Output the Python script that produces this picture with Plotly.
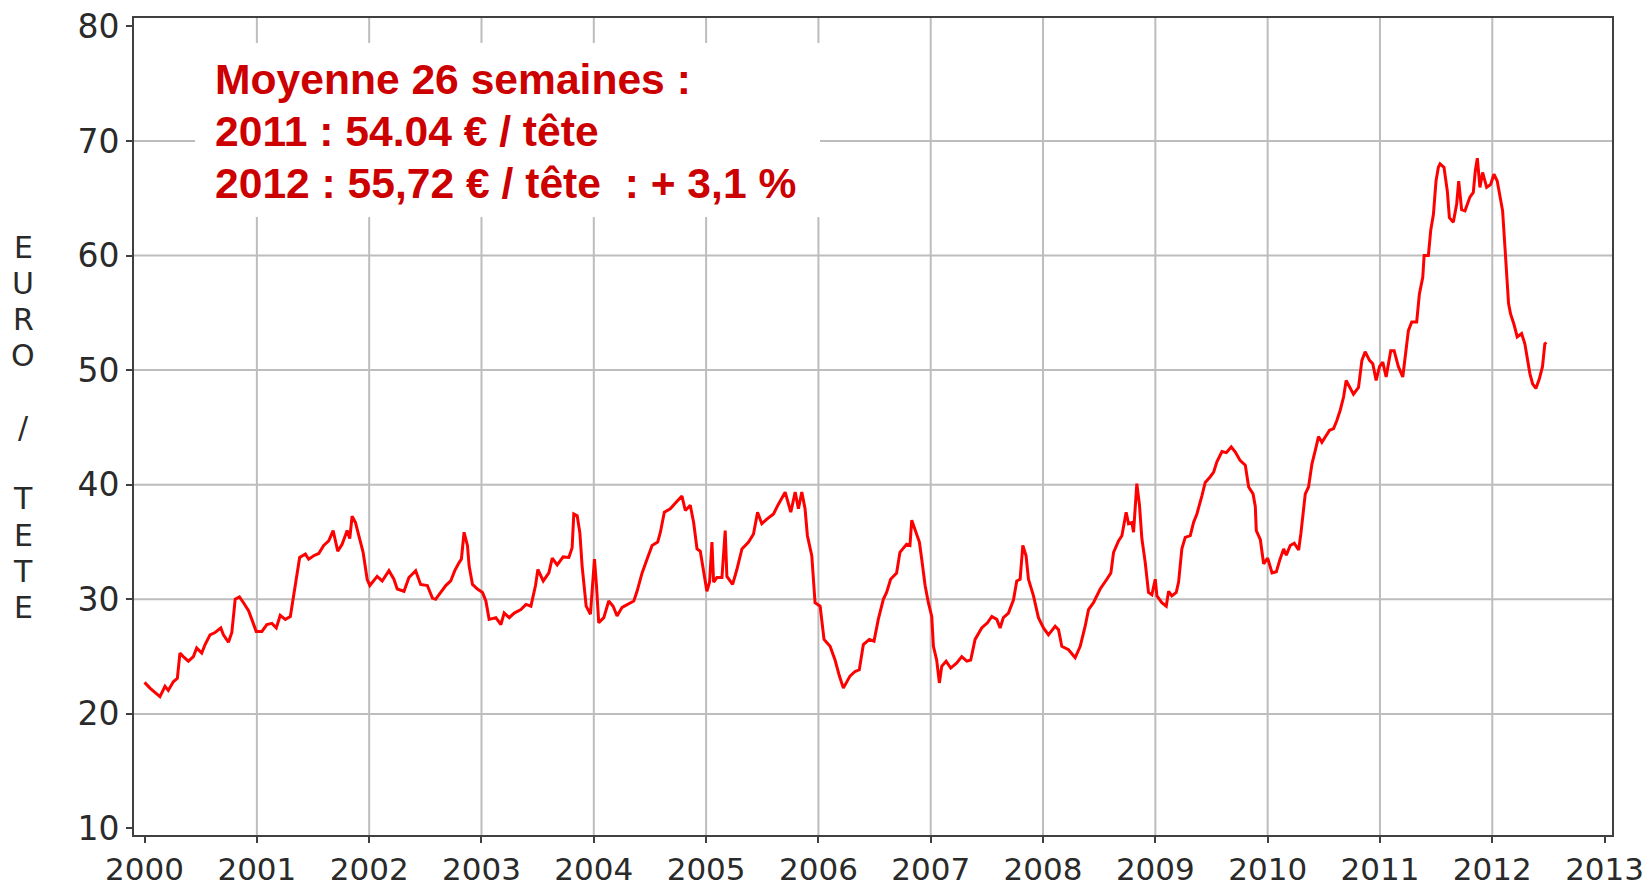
import plotly.graph_objects as go

# ---------------- data ----------------
annees = [
    2000.000, 2000.048, 2000.137, 2000.182, 2000.211, 2000.256, 2000.292, 2000.315, 2000.345, 2000.390,
    2000.435, 2000.464, 2000.509, 2000.539, 2000.583, 2000.628, 2000.679, 2000.702, 2000.747, 2000.777,
    2000.807, 2000.845, 2000.881, 2000.926, 2000.955, 2000.994, 2001.045, 2001.089, 2001.134, 2001.173,
    2001.208, 2001.253, 2001.298, 2001.321, 2001.357, 2001.381, 2001.432, 2001.461, 2001.506, 2001.551,
    2001.595, 2001.640, 2001.679, 2001.720, 2001.759, 2001.804, 2001.827, 2001.848, 2001.878, 2001.899,
    2001.946, 2001.982, 2002.006, 2002.071, 2002.116, 2002.176, 2002.220, 2002.250, 2002.310, 2002.354,
    2002.414, 2002.458, 2002.518, 2002.563, 2002.592, 2002.622, 2002.682, 2002.726, 2002.762, 2002.801,
    2002.821, 2002.845, 2002.875, 2002.890, 2002.920, 2002.964, 2003.009, 2003.039, 2003.068, 2003.128,
    2003.173, 2003.202, 2003.247, 2003.292, 2003.351, 2003.396, 2003.440,
    2003.481, 2003.502, 2003.550, 2003.600, 2003.630, 2003.674, 2003.727, 2003.778, 2003.807, 2003.822,
    2003.852, 2003.876, 2003.896, 2003.932, 2003.970, 2004.006, 2004.024, 2004.044, 2004.089, 2004.133,
    2004.172, 2004.207, 2004.252, 2004.296, 2004.356, 2004.385, 2004.430, 2004.474, 2004.519, 2004.569,
    2004.593, 2004.628, 2004.681, 2004.735, 2004.785, 2004.815, 2004.859, 2004.889, 2004.919, 2004.948,
    2004.978, 2005.007, 2005.031, 2005.052, 2005.067, 2005.096, 2005.141, 2005.170, 2005.185, 2005.236,
    2005.274, 2005.319, 2005.378, 2005.422, 2005.458, 2005.496, 2005.541, 2005.600, 2005.644, 2005.704,
    2005.754, 2005.793, 2005.822, 2005.852, 2005.881, 2005.902, 2005.941, 2005.970, 2006.015, 2006.050,
    2006.104, 2006.148, 2006.187, 2006.222, 2006.281, 2006.326, 2006.364, 2006.400, 2006.453, 2006.495,
    2006.533, 2006.578, 2006.607, 2006.643, 2006.696, 2006.726, 2006.785, 2006.815,
    2006.831, 2006.860, 2006.899, 2006.920, 2006.950, 2006.979, 2007.009, 2007.024, 2007.053, 2007.077,
    2007.098, 2007.137, 2007.178, 2007.232, 2007.276, 2007.321, 2007.356, 2007.395, 2007.454, 2007.505,
    2007.544, 2007.588, 2007.618, 2007.647, 2007.692, 2007.737, 2007.766, 2007.796, 2007.820, 2007.849,
    2007.870, 2007.915, 2007.959, 2008.004, 2008.048, 2008.108, 2008.138, 2008.167, 2008.227, 2008.286,
    2008.331, 2008.375, 2008.405, 2008.449, 2008.509, 2008.568, 2008.604, 2008.628, 2008.672, 2008.702,
    2008.740, 2008.761, 2008.791, 2008.806, 2008.835, 2008.859, 2008.880, 2008.910, 2008.939, 2008.969,
    2008.999, 2009.014, 2009.058, 2009.097, 2009.118, 2009.147, 2009.186, 2009.207, 2009.236, 2009.266,
    2009.311, 2009.340, 2009.370, 2009.415, 2009.444, 2009.489, 2009.519, 2009.548, 2009.593, 2009.632,
    2009.676, 2009.712, 2009.756, 2009.801,
    2009.831, 2009.870, 2009.890, 2009.899, 2009.935, 2009.964, 2010.000, 2010.039, 2010.077, 2010.107,
    2010.142, 2010.166, 2010.201, 2010.237, 2010.276, 2010.296, 2010.314, 2010.335, 2010.364, 2010.394,
    2010.424, 2010.453, 2010.483, 2010.513, 2010.551, 2010.587, 2010.616, 2010.646, 2010.676, 2010.699,
    2010.735, 2010.764, 2010.809, 2010.839, 2010.868, 2010.907, 2010.936, 2010.966, 2010.996, 2011.025,
    2011.055, 2011.096, 2011.126, 2011.164, 2011.203, 2011.233, 2011.253, 2011.283, 2011.327, 2011.351,
    2011.381, 2011.393, 2011.431, 2011.452, 2011.476, 2011.499, 2011.520, 2011.535, 2011.570, 2011.600,
    2011.618, 2011.653, 2011.683, 2011.701, 2011.727, 2011.757, 2011.801, 2011.831, 2011.849, 2011.867,
    2011.890, 2011.914, 2011.950, 2011.985, 2012.015, 2012.044, 2012.068, 2012.092, 2012.113, 2012.127,
    2012.145, 2012.163, 2012.193, 2012.222, 2012.261, 2012.290, 2012.311, 2012.335, 2012.359, 2012.388,
    2012.418, 2012.447, 2012.468, 2012.483,
]

prix = [
    22.75, 22.25, 21.5, 22.4, 22.05, 22.8, 23.1, 25.3, 25.0, 24.6,
    25.0, 25.75, 25.3, 26.05, 26.9, 27.1, 27.5, 26.9, 26.25, 27.1,
    30.0, 30.2, 29.7, 29.0, 28.25, 27.2, 27.2, 27.8, 27.9, 27.5,
    28.6, 28.25, 28.5, 30.0, 32.0, 33.65, 33.95, 33.5, 33.8, 34.0,
    34.7, 35.1, 36.0, 34.2, 34.8, 36.0, 35.3, 37.25, 36.7, 35.85,
    34.1, 31.75, 31.2, 32.0, 31.6, 32.5, 31.75, 30.9, 30.7, 31.9,
    32.5, 31.3, 31.2, 30.1, 30.0, 30.4, 31.2, 31.6, 32.5, 33.2,
    33.5, 35.85, 34.7, 32.9, 31.3, 30.9, 30.6, 29.85, 28.25, 28.4,
    27.8, 28.8, 28.4, 28.8, 29.1, 29.55, 29.4,
    31.2, 32.6, 31.6, 32.3, 33.6, 33.0, 33.7, 33.65, 34.5, 37.45,
    37.3, 35.8, 32.9, 29.4, 28.7, 33.5, 31.2, 27.95, 28.4, 29.85,
    29.4, 28.55, 29.3, 29.55, 29.85, 30.7, 32.3, 33.5, 34.7, 35.0,
    35.85, 37.6, 37.9, 38.5, 39.0, 37.75, 38.2, 36.7, 34.4, 34.2,
    32.3, 30.7, 31.5, 35.0, 31.5, 31.9, 31.9, 36.0, 32.0, 31.3,
    32.6, 34.4, 35.0, 35.7, 37.6, 36.6, 37.0, 37.45, 38.3, 39.35,
    37.6, 39.35, 37.9, 39.35, 37.9, 35.55, 33.8, 29.7, 29.4, 26.5,
    25.9, 24.7, 23.3, 22.25, 23.3, 23.7, 23.85, 26.05, 26.5, 26.35,
    28.25, 30.0, 30.6, 31.75, 32.3, 34.1, 34.8, 34.7,
    36.9, 36.1, 35.0, 33.5, 31.2, 29.7, 28.5, 25.9, 24.7, 22.7,
    24.15, 24.6, 24.0, 24.45, 25.0, 24.6, 24.7, 26.5, 27.5, 27.95,
    28.5, 28.25, 27.5, 28.4, 28.8, 29.95, 31.6, 31.75, 34.7, 33.8,
    31.75, 30.3, 28.4, 27.5, 26.9, 27.65, 27.35, 25.9, 25.6, 24.9,
    25.9, 27.65, 29.1, 29.7, 30.9, 31.75, 32.3, 34.1, 35.1, 35.55,
    37.6, 36.6, 36.7, 35.85, 40.1, 38.2, 35.3, 33.2, 30.6, 30.4,
    31.75, 30.3, 29.7, 29.4, 30.7, 30.3, 30.6, 31.5, 34.4, 35.4,
    35.55, 36.7, 37.45, 39.05, 40.2, 40.7, 41.1, 42.0, 42.9, 42.8,
    43.3, 42.85, 42.1, 41.7,
    39.8, 39.2, 38.1, 36.0, 35.2, 33.1, 33.6, 32.3, 32.4, 33.4,
    34.4, 33.85, 34.7, 34.9, 34.3, 35.75, 37.5, 39.2, 39.8, 41.8,
    43.0, 44.2, 43.7, 44.2, 44.75, 44.9, 45.6, 46.5, 47.65, 49.1,
    48.5, 47.9, 48.5, 50.85, 51.6, 50.85, 50.55, 49.1, 50.3, 50.7,
    49.4, 51.7, 51.7, 50.3, 49.4, 52.0, 53.45, 54.2, 54.2, 56.65,
    58.1, 60.0, 60.0, 62.2, 63.6, 66.5, 67.7, 68.0, 67.7, 65.6,
    63.3, 62.9, 64.5, 66.5, 64.0, 63.9, 65.1, 65.5, 67.4, 68.5,
    65.95, 67.25, 65.95, 66.2, 67.1, 66.5, 65.1, 63.9, 60.7, 58.4,
    55.8, 54.9, 54.0, 52.9, 53.2, 52.3, 51.1, 49.7, 48.8, 48.4,
    49.2, 50.3, 52.3, 52.4,
]

x_ticks = list(range(2000, 2014))
y_ticks = [10, 20, 30, 40, 50, 60, 70, 80]
titre_y = "EURO / TETE"
encart = [
    "Moyenne 26 semaines :",
    "2011 : 54.04 € / tête",
    "2012 : 55,72 € / tête  : + 3,1 %",
]

# ---------------- layout geometry ----------------
W, H = 1652, 887
L, R, T, B = 134, 40, 18, 52
X_RANGE = [1999.906, 2013.066]
Y_RANGE = [9.43, 80.73]


def px_x(px):
    return (px - L) / (W - L - R)


def px_y(py):
    return 1 - (py - T) / (H - T - B)


AXIS_COL = "#404040"
GRID_COL = "#bdbdbd"
TEXT_COL = "#2a2a2a"
RED_TXT = "#cc0000"

fig = go.Figure(
    go.Scatter(
        x=annees, y=prix, mode="lines",
        line=dict(color="#ff0000", width=3),
        hoverinfo="skip", showlegend=False,
    )
)

shapes = []
for v in x_ticks[1:-1]:
    shapes.append(dict(type="line", xref="x", yref="paper", x0=v, x1=v, y0=0, y1=1,
                       line=dict(color=GRID_COL, width=2), layer="below"))
for v in y_ticks[1:-1]:
    shapes.append(dict(type="line", xref="paper", yref="y", x0=0, x1=1, y0=v, y1=v,
                       line=dict(color=GRID_COL, width=2), layer="below"))
# white box behind the text block
shapes.append(dict(type="rect", xref="paper", yref="paper",
                   x0=px_x(195), x1=px_x(820), y0=px_y(217), y1=px_y(43),
                   fillcolor="white", line=dict(width=0), layer="above"))

annotations = []
for i, line in enumerate(encart):
    annotations.append(dict(
        xref="paper", yref="paper", x=px_x(213), y=px_y(79 + 52 * i),
        xanchor="left", yanchor="middle", showarrow=False,
        text=line, font=dict(family="Liberation Sans, Arial, sans-serif", size=42.6,
                             color=RED_TXT, weight=700),
    ))

for i, ch in enumerate(titre_y):
    if ch.strip() == "":
        continue
    annotations.append(dict(
        xref="paper", yref="paper", x=px_x(23), y=px_y(247 + 36 * i),
        xanchor="center", yanchor="middle", showarrow=False,
        text=ch, font=dict(family="DejaVu Sans", size=30, color=TEXT_COL),
    ))

y_tick_font = dict(family="DejaVu Sans", size=33, color=TEXT_COL)
x_tick_font = dict(family="DejaVu Sans", size=31, color=TEXT_COL)

fig.update_layout(
    width=W, height=H,
    margin=dict(l=L, r=R, t=T, b=B, pad=0, autoexpand=False),
    paper_bgcolor="white", plot_bgcolor="white",
    shapes=shapes, annotations=annotations,
    showlegend=False, hovermode=False,
    xaxis=dict(
        range=X_RANGE, tickvals=x_ticks, ticktext=[str(v) for v in x_ticks],
        ticks="outside", ticklen=6, tickwidth=2, tickcolor=AXIS_COL,
        showline=True, linecolor=AXIS_COL, linewidth=2, mirror=True,
        showgrid=False, zeroline=False, tickfont=x_tick_font, automargin=False,
    ),
    yaxis=dict(
        range=Y_RANGE, tickvals=y_ticks, ticktext=[str(v) for v in y_ticks],
        ticks="outside", ticklen=6, tickwidth=2, tickcolor=AXIS_COL,
        showline=True, linecolor=AXIS_COL, linewidth=2, mirror=True,
        showgrid=False, zeroline=False, tickfont=y_tick_font, automargin=False,
    ),
)

fig.write_html(
    "out.html",
    config={"displayModeBar": False},
    post_script="document.body.style.margin='0';document.body.style.overflow='hidden';",
)
